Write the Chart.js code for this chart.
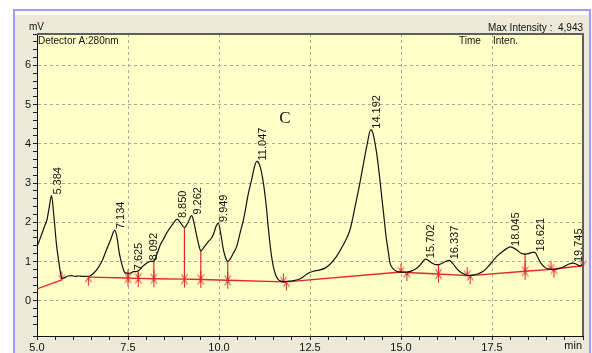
<!DOCTYPE html>
<html>
<head>
<meta charset="utf-8">
<script src="https://cdn.jsdelivr.net/npm/chart.js@4.4.0/dist/chart.umd.min.js"></script>
<style>
  html, body { margin: 0; padding: 0; background: #fff; }
  canvas { display: block; }
</style>
</head>
<body>
<canvas id="chroma" width="592" height="353"></canvas>
<script>
// Trace of detector A (time in min, signal in mV)
const curveT = [5.00, 5.10, 5.20, 5.27, 5.33, 5.40, 5.46, 5.54, 5.59, 5.62, 5.68, 5.75, 5.85, 5.95, 6.05, 6.15, 6.25, 6.35, 6.45,
  6.55, 6.65, 6.78, 6.91, 7.02, 7.14, 7.20, 7.26, 7.34, 7.42, 7.55, 7.65, 7.75, 7.83, 7.91, 8.00, 8.10, 8.21,
  8.30, 8.40, 8.47, 8.56, 8.65, 8.75, 8.85, 8.95, 9.05, 9.15, 9.25, 9.32, 9.39, 9.45, 9.50, 9.60, 9.71, 9.78,
  9.85, 9.92, 9.98, 10.05, 10.12, 10.18, 10.24, 10.32, 10.40, 10.49, 10.58, 10.68, 10.81, 10.90, 10.97, 11.04,
  11.12, 11.22, 11.30, 11.35, 11.42, 11.49, 11.56, 11.63, 11.70, 11.77, 11.85, 11.95, 12.05, 12.18, 12.30, 12.45,
  12.59, 12.75, 12.91, 13.05, 13.23, 13.40, 13.60, 13.75, 13.87, 13.97, 14.06, 14.17, 14.22, 14.33, 14.40, 14.47,
  14.53, 14.59, 14.65, 14.70, 14.78, 14.88, 15.00, 15.16, 15.30, 15.42, 15.52, 15.60, 15.67, 15.75, 15.85, 15.95,
  16.03, 16.12, 16.22, 16.33, 16.42, 16.55, 16.65, 16.75, 16.85, 16.95, 17.10, 17.26, 17.45, 17.63, 17.80, 17.92,
  18.00, 18.10, 18.20, 18.30, 18.41, 18.50, 18.60, 18.68, 18.75, 18.85, 18.95, 19.05, 19.18, 19.30, 19.46, 19.60,
  19.72, 19.82, 19.92, 20.00];
const curveV = [1.38, 1.62, 1.88, 2.05, 2.35, 2.68, 2.19, 1.39, 1.05, 0.86, 0.57, 0.58, 0.63, 0.64, 0.62, 0.63, 0.62, 0.62, 0.63,
  0.70, 0.80, 1.00, 1.30, 1.55, 1.80, 1.60, 1.22, 0.90, 0.71, 0.70, 0.74, 0.75, 0.80, 0.88, 0.95, 1.00, 1.01,
  1.20, 1.45, 1.56, 1.72, 1.85, 1.98, 2.08, 1.98, 1.86, 2.00, 2.17, 1.95, 1.64, 1.40, 1.27, 1.38, 1.51, 1.58,
  1.70, 1.90, 1.98, 1.70, 1.30, 1.10, 1.00, 1.08, 1.22, 1.39, 1.73, 2.10, 2.75, 3.10, 3.40, 3.55,
  3.45, 3.00, 2.40, 1.90, 1.30, 0.88, 0.65, 0.54, 0.50, 0.48, 0.49, 0.50, 0.51, 0.54, 0.60, 0.70,
  0.75, 0.78, 0.83, 0.93, 1.13, 1.40, 1.81, 2.45, 3.00, 3.50, 3.94, 4.36, 4.30, 3.77, 3.25, 2.66,
  2.15, 1.64, 1.25, 0.96, 0.82, 0.75, 0.73, 0.73, 0.76, 0.82, 0.90, 1.00, 1.06, 1.03, 0.96, 0.92,
  0.92, 0.95, 1.00, 1.03, 0.95, 0.80, 0.72, 0.67, 0.64, 0.65, 0.68, 0.75, 0.93, 1.13, 1.26, 1.34,
  1.37, 1.34, 1.28, 1.21, 1.19, 1.20, 1.23, 1.23, 1.12, 0.95, 0.85, 0.81, 0.79, 0.81, 0.86, 0.93,
  0.96, 0.93, 0.89, 0.95];

// Integration baseline (null = gap)
const baseT = [5.00, 5.68, 6.00, 6.41, 7.50, 7.78, 8.21, 9.05, 9.50, 10.24, 11.77, 11.85, 15.00, 15.16, 16.03, 16.82, 16.90, 18.41, 19.12, 19.20, 20.00];
const baseV = [0.30, 0.53, null, 0.60, 0.58, 0.57, 0.56, 0.55, 0.54, 0.52, 0.48, 0.48, 0.73, 0.72, 0.68, 0.64, 0.64, 0.75, 0.80, 0.81, 0.89];

// Perpendicular drops between fused peaks
const dropT = [7.50, 7.78, 8.21, 9.05, 9.50, 10.24, 16.03, 18.41];
const dropBase = [0.58, 0.57, 0.56, 0.55, 0.54, 0.52, 0.68, 0.75];
const dropTop = [0.70, 0.74, 1.01, 1.86, 1.27, 1.00, 0.92, 1.19];

// Peak start/end marks: d = arrow from above, u = from below, b = both
const markT = [5.68, 6.41, 7.50, 7.78, 8.21, 9.05, 9.50, 10.24, 11.77, 11.85, 15.00, 15.16, 16.03, 16.82, 16.90, 18.41, 19.12, 19.20, 20.00];
const markV = [0.53, 0.60, 0.58, 0.57, 0.56, 0.55, 0.54, 0.52, 0.48, 0.48, 0.73, 0.72, 0.68, 0.64, 0.64, 0.75, 0.80, 0.81, 0.89];
const markKind = ['d', 'u', 'b', 'b', 'b', 'b', 'b', 'b', 'd', 'u', 'd', 'u', 'b', 'd', 'u', 'b', 'd', 'u', 'd'];

// Retention time labels at peak tops
const peakText = ['5.384', '7.134', '7.625', '8.092', '8.850', '9.262', '9.949', '11.047', '14.192', '15.702', '16.337', '18.045', '18.621', '19.745'];
const peakT = [5.40, 7.14, 7.64, 8.05, 8.85, 9.25, 9.98, 11.04, 14.17, 15.67, 16.33, 18.00, 18.68, 19.72];
const peakV = [2.68, 1.80, 0.75, 1.00, 2.08, 2.17, 1.98, 3.55, 4.36, 1.06, 1.03, 1.37, 1.23, 0.96];

// Axes
const xMin = 5, xMax = 20, xMajor = 2.5, xMinor = 0.5;
const yMin = -0.9, yMax = 6.8, yMinor = 0.2;

const FONT = '"Liberation Sans", Arial, sans-serif';
const RED = '#e3262b';

function xy(xs, ys) {
    return xs.map((x, i) => ({ x: x, y: ys[i] }));
}

function dropPoints() {
    const pts = [];
    dropT.forEach((t, i) => {
        pts.push({ x: t, y: dropBase[i] }, { x: t, y: dropTop[i] }, { x: t, y: null });
    });
    return pts;
}

// small red arrow images used as point styles
function makeArrow(kind) {
    const c = document.createElement('canvas');
    c.width = 9; c.height = 19;
    const g = c.getContext('2d');
    g.strokeStyle = RED;
    g.lineWidth = 1;
    const mid = 9.5;
    g.beginPath();
    if (kind !== 'u') {
        g.moveTo(4.5, 1); g.lineTo(4.5, mid);
        g.moveTo(1.5, mid - 5); g.lineTo(4.5, mid); g.lineTo(7.5, mid - 5);
    }
    if (kind !== 'd') {
        g.moveTo(4.5, 18); g.lineTo(4.5, mid);
        g.moveTo(1.5, mid + 5); g.lineTo(4.5, mid); g.lineTo(7.5, mid + 5);
    }
    g.stroke();
    return c;
}
const arrows = { d: makeArrow('d'), u: makeArrow('u'), b: makeArrow('b') };

function isMult(v, step) {
    const r = v / step;
    return Math.abs(r - Math.round(r)) < 1e-6;
}

const decor = {
    id: 'decor',
    beforeDraw(chart) {
        const ctx = chart.ctx, a = chart.chartArea;
        ctx.save();
        ctx.fillStyle = '#fff';
        ctx.fillRect(0, 0, chart.width, chart.height);
        ctx.fillStyle = '#ece9d8';
        ctx.fillRect(14, 10, 576, 343);
        ctx.fillStyle = '#fbfbf8';
        ctx.fillRect(15, 11, 574, 4);
        ctx.strokeStyle = '#9d9df2';
        ctx.lineWidth = 2;
        ctx.beginPath();
        ctx.moveTo(14, 360); ctx.lineTo(14, 10); ctx.lineTo(590, 10); ctx.lineTo(590, 360);
        ctx.stroke();
        ctx.fillStyle = '#ffffc8';
        ctx.fillRect(a.left, a.top, a.right - a.left, a.bottom - a.top);
        ctx.restore();
    },
    afterDraw(chart) {
        const ctx = chart.ctx, a = chart.chartArea;
        const sx = chart.scales.x, sy = chart.scales.y;
        ctx.save();
        // top and right frame
        ctx.strokeStyle = '#5e5e5e';
        ctx.lineWidth = 2;
        ctx.beginPath();
        ctx.moveTo(a.left, a.top); ctx.lineTo(a.right, a.top); ctx.lineTo(a.right, a.bottom);
        ctx.stroke();

        ctx.fillStyle = '#111';
        ctx.textBaseline = 'middle';
        ctx.font = '10px ' + FONT;
        ctx.textAlign = 'left';
        ctx.fillText('mV', 29, 27);
        ctx.fillText('Detector A:280nm', 38, 41);
        ctx.fillText('Inten.', 493, 41);
        ctx.textAlign = 'center';
        ctx.fillText('Time', 470, 41);
        ctx.textAlign = 'right';
        ctx.fillText('Max Intensity :  4,943', 583, 28);
        ctx.font = '11px ' + FONT;
        ctx.fillText('min', 582, 346);

        ctx.font = '17px "Liberation Serif", "Times New Roman", serif';
        ctx.textAlign = 'center';
        ctx.fillText('C', 285, 119);

        // rotated peak labels
        ctx.font = '11px ' + FONT;
        ctx.textAlign = 'left';
        peakText.forEach((txt, i) => {
            const px = sx.getPixelForValue(peakT[i]) + 6;
            const py = sy.getPixelForValue(peakV[i]) - 1;
            ctx.save();
            ctx.translate(px, py);
            ctx.rotate(-Math.PI / 2);
            ctx.fillText(txt, 0, 0);
            ctx.restore();
        });
        ctx.restore();
    }
};

new Chart(document.getElementById('chroma'), {
    type: 'scatter',
    data: {
        datasets: [
            {
                data: xy(curveT, curveV),
                showLine: true,
                borderColor: '#111',
                borderWidth: 1.2,
                pointRadius: 0,
                cubicInterpolationMode: 'monotone'
            },
            {
                data: dropPoints(),
                showLine: true,
                borderColor: RED,
                borderWidth: 1.2,
                pointRadius: 0,
                spanGaps: false
            },
            {
                data: xy(markT, markV),
                showLine: false,
                pointStyle: markKind.map(k => arrows[k]),
                pointRadius: 5,
                clip: false
            },
            {
                data: xy(baseT, baseV),
                showLine: true,
                borderColor: RED,
                borderWidth: 1.4,
                pointRadius: 0,
                spanGaps: false
            }
        ]
    },
    options: {
        responsive: false,
        animation: false,
        events: [],
        layout: { padding: { left: 0, top: 34, right: 9, bottom: 0 } },
        plugins: { legend: { display: false }, tooltip: { enabled: false } },
        scales: {
            x: {
                type: 'linear',
                min: xMin,
                max: xMax,
                afterFit(scale) { scale.height = 17; },
                ticks: {
                    stepSize: xMinor,
                    autoSkip: false,
                    maxRotation: 0,
                    minRotation: 0,
                    padding: 1,
                    color: '#111',
                    font: { family: FONT, size: 11 },
                    callback: v => (isMult(v, xMajor) && v < xMax) ? v.toFixed(1) : ''
                },
                grid: {
                    color: c => (c.tick && isMult(c.tick.value, xMajor) && c.tick.value > xMin && c.tick.value < xMax) ? '#aaa9a0' : 'rgba(0,0,0,0)',
                    tickColor: '#222',
                    tickLength: 4
                },
                border: { color: '#111', width: 1, dash: [3, 3] }
            },
            y: {
                type: 'linear',
                min: yMin,
                max: yMax,
                afterFit(scale) { scale.width = 37; },
                ticks: {
                    stepSize: yMinor,
                    autoSkip: false,
                    padding: 2,
                    color: '#111',
                    font: { family: FONT, size: 11 },
                    callback: v => isMult(v, 1) ? String(Math.round(v)) : ''
                },
                grid: {
                    color: c => (c.tick && isMult(c.tick.value, 1)) ? '#aaa9a0' : 'rgba(0,0,0,0)',
                    tickColor: '#222',
                    tickLength: 4
                },
                border: { color: '#111', width: 1, dash: [3, 3] }
            }
        }
    },
    plugins: [decor]
});
</script>
</body>
</html>
